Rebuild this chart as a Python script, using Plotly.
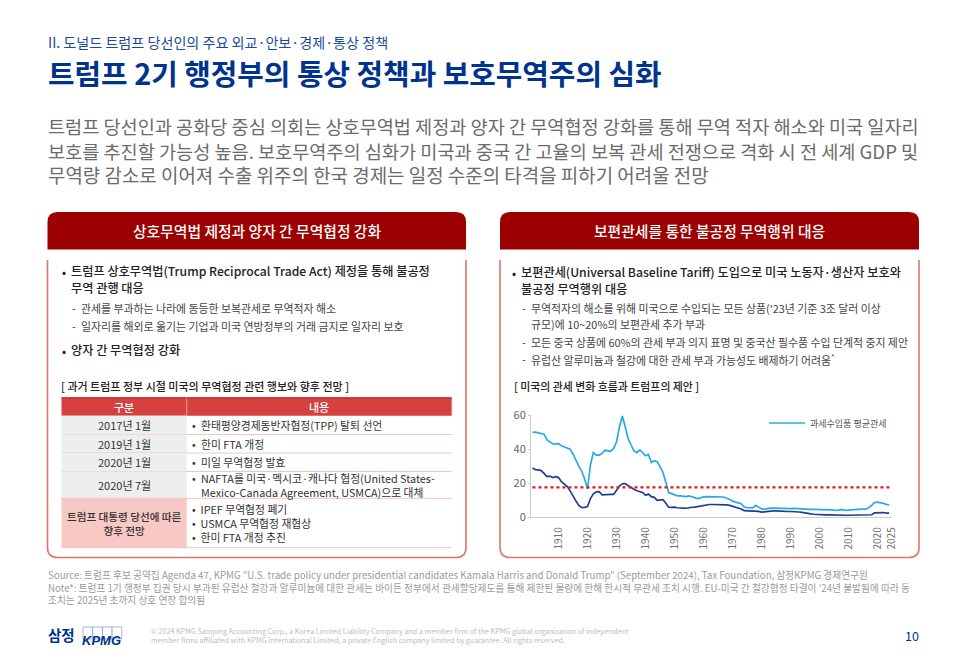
import plotly.graph_objects as go

W, H = 966, 669
FONT = "Noto Sans CJK KR"
NAVY = "#00338D"

# chart data, average tariff (%)
years = list(range(1901, 2025))
dutiable_avg = [
    49.8, 50.0, 49.5, 49.0, 48.7, 45.5, 44.2, 43.0, 43.1, 43.2,
    41.9, 41.3, 40.5, 40.0, 37.0, 33.0, 30.0, 27.0, 22.5, 16.6,
    30.7, 38.0, 36.5, 36.5, 37.5, 39.3, 38.9, 38.7, 40.4, 44.3,
    53.0, 59.4, 53.0, 46.3, 42.4, 38.9, 37.9, 39.5, 38.0, 36.1,
    36.9, 32.2, 33.2, 32.6, 29.7, 26.4, 20.5, 14.5, 13.9, 13.0,
    12.6, 12.6, 12.2, 12.1, 12.5, 11.9, 11.2, 11.0, 11.4, 12.0,
    12.1, 12.1, 11.9, 11.8, 11.8, 11.9, 11.9, 11.2, 10.6, 9.5,
    8.8, 8.5, 8.0, 6.0, 5.7, 5.4, 5.5, 7.0, 5.8, 4.9,
    4.8, 5.3, 5.4, 5.4, 5.3, 5.2, 5.1, 5.0, 5.0, 5.1,
    5.2, 5.1, 5.0, 4.7, 4.4, 4.5, 4.6, 4.7, 4.7, 4.7,
    4.7, 4.6, 4.5, 4.4, 4.2, 4.0, 4.4, 4.5, 4.1, 4.1,
    4.3, 4.5, 4.7, 4.9, 4.8, 4.8, 5.6, 7.0, 8.6, 8.9,
    8.7, 8.2, 7.6, 7.2,
]
all_imports_avg = [
    28.9, 28.0, 27.8, 27.4, 25.8, 23.9, 24.2, 23.3, 23.8, 23.3,
    20.9, 19.5, 18.0, 15.5, 12.0, 9.5, 7.0, 5.7, 5.8, 6.3,
    11.0, 13.8, 14.9, 15.0, 13.2, 13.3, 13.8, 13.5, 13.4, 16.0,
    18.3, 19.7, 19.8, 18.5, 17.2, 16.4, 15.6, 15.2, 14.6, 12.9,
    13.6, 12.1, 11.7, 10.0, 10.0, 10.4, 8.2, 5.9, 5.8, 6.0,
    5.6, 5.3, 5.4, 5.3, 5.8, 5.9, 6.0, 6.3, 7.0, 7.2,
    7.3, 7.5, 7.5, 7.5, 7.5, 7.6, 7.5, 7.3, 7.0, 6.4,
    6.0, 5.6, 4.9, 3.9, 3.8, 3.8, 3.8, 3.9, 3.5, 3.0,
    3.3, 3.5, 3.7, 3.8, 3.8, 3.6, 3.5, 3.4, 3.4, 3.4,
    3.4, 3.3, 3.1, 2.9, 2.5, 2.2, 2.0, 1.8, 1.6, 1.5,
    1.5, 1.4, 1.4, 1.3, 1.3, 1.2, 1.2, 1.1, 1.2, 1.2,
    1.2, 1.2, 1.2, 1.3, 1.3, 1.3, 1.3, 1.5, 2.6, 2.8,
    2.9, 2.8, 2.5, 2.4,
]
proposal_years = [1901, 2025]
proposal_rate = [17.6, 17.6]
x_ticks = [1910, 1920, 1930, 1940, 1950, 1960, 1970, 1980, 1990, 2000, 2010, 2020, 2025]
y_ticks = [0, 20, 40, 60]
legend_name = "과세수입품 평균관세"

# slide text
section = "II. 도널드 트럼프 당선인의 주요 외교·안보·경제·통상 정책"
title = "트럼프 2기 행정부의 통상 정책과 보호무역주의 심화"
intro = [
    "트럼프 당선인과 공화당 중심 의회는 상호무역법 제정과 양자 간 무역협정 강화를 통해 무역 적자 해소와 미국 일자리",
    "보호를 추진할 가능성 높음. 보호무역주의 심화가 미국과 중국 간 고율의 보복 관세 전쟁으로 격화 시 전 세계 GDP 및",
    "무역량 감소로 이어져 수출 위주의 한국 경제는 일정 수준의 타격을 피하기 어려울 전망",
]
left_head = "상호무역법 제정과 양자 간 무역협정 강화"
right_head = "보편관세를 통한 불공정 무역행위 대응"

table_title = "[ 과거 트럼프 정부 시절 미국의 무역협정 관련 행보와 향후 전망 ]"
chart_title = "[ 미국의 관세 변화 흐름과 트럼프의 제안 ]"
table_cols = ["구분", "내용"]
table_periods = ["2017년 1월", "2019년 1월", "2020년 1월", "2020년 7월", "트럼프 대통령 당선에 따른<br>향후 전망"]
table_items = [
    ["환태평양경제동반자협정(TPP) 탈퇴 선언"],
    ["한미 FTA 개정"],
    ["미일 무역협정 발효"],
    ["NAFTA를 미국·멕시코·캐나다 협정(United States-<br>Mexico-Canada Agreement, USMCA)으로 대체"],
    ["IPEF 무역협정 폐기", "USMCA 무역협정 재협상", "한미 FTA 개정 추진"],
]
row_edges = [415.7, 434.5, 453, 471.5, 498.3, 547.7]

source_lines = [
    "Source: 트럼프 후보 공약집 Agenda 47, KPMG \"U.S. trade policy under presidential candidates Kamala Harris and Donald Trump\" (September 2024), Tax Foundation, 삼정KPMG 경제연구원",
    "Note*: 트럼프 1기 행정부 집권 당시 부과된 유럽산 철강과 알루미늄에 대한 관세는 바이든 정부에서 관세할당제도를 통해 제한된 물량에 한해 한시적 무관세 조치 시행. EU-미국 간 철강협정 타결이 '24년 불발됨에 따라 동",
    "조치는 2025년 초까지 상호 연장 합의됨",
]
copyright_lines = [
    "© 2024 KPMG Samjong Accounting Corp., a Korea Limited Liability Company and a member firm of the KPMG global organization of independent",
    "member firms affiliated with KPMG International Limited, a private English company limited by guarantee. All rights reserved.",
]


def px(x):
    return x / W


def py(y):
    return 1 - y / H


annotations = []
shapes = []


def text(x, y, s, size, color="#333333", weight=400, anchor="left", align="left", family=FONT):
    # annotations carry about 1.5px of padding inside their box
    if anchor == "left":
        x -= 1.5
    elif anchor == "right":
        x += 2.5
    annotations.append(dict(
        x=px(x), y=py(y), xref="paper", yref="paper", text=s, showarrow=False,
        xanchor=anchor, yanchor="middle", align=align,
        font=dict(family=family, size=size, color=color, weight=weight),
    ))


def rect(x0, y0, x1, y1, fill, line=None, width=0):
    shapes.append(dict(
        type="rect", xref="paper", yref="paper", x0=px(x0), x1=px(x1), y0=py(y0), y1=py(y1),
        fillcolor=fill, line=dict(color=line or fill, width=width), layer="below",
    ))


def hline(x0, x1, y, color, width=1):
    shapes.append(dict(
        type="line", xref="paper", yref="paper", x0=px(x0), x1=px(x1), y0=py(y), y1=py(y),
        line=dict(color=color, width=width), layer="below",
    ))


def panel(x0, x1, heading, cx):
    # red header with rounded top
    r = 10
    top, bot = 212, 249.5
    shapes.append(dict(
        type="path", xref="paper", yref="paper", fillcolor="#9C0000", line=dict(width=0), layer="below",
        path=f"M {px(x0)},{py(bot)} L {px(x0)},{py(top + r)} Q {px(x0)},{py(top)} {px(x0 + r)},{py(top)} "
             f"L {px(x1 - r)},{py(top)} Q {px(x1)},{py(top)} {px(x1)},{py(top + r)} L {px(x1)},{py(bot)} Z",
    ))
    # open border below it
    b0, b1 = 260, 557.5
    shapes.append(dict(
        type="path", xref="paper", yref="paper", line=dict(color="#E2756B", width=1.6), layer="below",
        path=f"M {px(x0)},{py(b0)} L {px(x0)},{py(b1 - r)} Q {px(x0)},{py(b1)} {px(x0 + r)},{py(b1)} "
             f"L {px(x1 - r)},{py(b1)} Q {px(x1)},{py(b1)} {px(x1)},{py(b1 - r)} L {px(x1)},{py(b0)}",
    ))
    text(cx, 230.5, heading, 14.8, "#FFFFFF", 500, "center")


def main_item(x, y, s):
    text(x, y, "•", 12, "#222222", 400)
    text(x + 9, y, s, 12.2, "#222222", 500)


def sub_item(x, y, s):
    text(x, y, "-", 11, "#444444")
    text(x + 9, y, s, 10.9, "#444444")


text(47, 42, section, 14.1, "#1B4A9C")
text(47, 73, title, 28.85, NAVY, 700)
for y, line, size in zip([125, 150, 175], intro, [18.6, 18.6, 18.95]):
    text(47, y, line, size, "#6B6B6B")

panel(47.5, 466, left_head, 257)
panel(500, 919, right_head, 709)

main_item(61, 271, "트럼프 상호무역법(Trump Reciprocal Trade Act) 제정을 통해 불공정")
text(70, 288, "무역 관행 대응", 12.2, "#222222", 500)
sub_item(71.5, 308, "관세를 부과하는 나라에 동등한 보복관세로 무역적자 해소")
sub_item(71.5, 326, "일자리를 해외로 옮기는 기업과 미국 연방정부의 거래 금지로 일자리 보호")
main_item(61, 350, "양자 간 무역협정 강화")
text(60, 386, table_title, 11, "#222222", 500)

main_item(511, 272, "보편관세(Universal Baseline Tariff) 도입으로 미국 노동자·생산자 보호와")
text(520, 289, "불공정 무역행위 대응", 12.2, "#222222", 500)
sub_item(521, 308, "무역적자의 해소를 위해 미국으로 수입되는 모든 상품('23년 기준 3조 달러 이상")
text(530, 324, "규모)에 10~20%의 보편관세 추가 부과", 10.9, "#444444")
sub_item(521, 342, "모든 중국 상품에 60%의 관세 부과 의지 표명 및 중국산 필수품 수입 단계적 중지 제안")
sub_item(521, 359, "유럽산 알루미늄과 철강에 대한 관세 부과 가능성도 배제하기 어려움<sup>*</sup>")
text(513, 386, chart_title, 10.9, "#222222", 500)

# table
tx0, tsplit, tx1 = 61.5, 186.7, 451.7
rect(tx0, 397.7, tx1, 415.7, "#D6403F")
hline(tx0, tx1, 397.9, "#B81F1F", 1.2)
shapes.append(dict(type="line", xref="paper", yref="paper", x0=px(tsplit), x1=px(tsplit),
                   y0=py(397.7), y1=py(415.7), line=dict(color="#F0B0AC", width=0.8), layer="below"))
text((tx0 + tsplit) / 2, 406.7, table_cols[0], 11, "#FFFFFF", 500, "center")
text((tsplit + tx1) / 2, 406.7, table_cols[1], 11, "#FFFFFF", 500, "center")
for i, (period, items) in enumerate(zip(table_periods, table_items)):
    y0, y1 = row_edges[i], row_edges[i + 1]
    yc = (y0 + y1) / 2
    last = i == len(table_periods) - 1
    rect(tx0, y0, tsplit, y1, "#F8C8C4" if last else "#EEEEEE")
    hline(tx0, tx1, y1, "#F4C4C0", 1)
    text((tx0 + tsplit) / 2, yc, period, 10.6 if last else 11, "#333333", 500 if last else 400, "center", "center")
    if len(items) > 1:
        text(191, yc, "<br>".join("•  " + item for item in items), 10.8, "#333333")
    else:
        text(191, yc if "<br>" not in items[0] else yc - 6.7, "•", 10.8, "#333333")
        text(200, yc, items[0], 10.8, "#333333")

# footer
text(47, 587, "<br>".join(source_lines), 9.7, "#9A9A9A")
text(47, 634, "삼정", 14.5, NAVY, 700)
for bx in [83, 92.7, 102.4, 112.1]:
    rect(bx, 627, bx + 9.7, 639, "#FFFFFF", "#7D97C6", 0.7)
text(81, 640, "<i>KPMG</i>", 13, NAVY, 700, family="Liberation Sans")
text(150, 635.5, "<br>".join(copyright_lines), 7.15, "#BDBDBD")
text(918, 635, "10", 12.5, NAVY, 400, "right")

fig = go.Figure()
fig.add_trace(go.Scatter(x=years, y=dutiable_avg, mode="lines", name=legend_name,
                         line=dict(color="#29ABE2", width=1.7)))
fig.add_trace(go.Scatter(x=years, y=all_imports_avg, mode="lines", showlegend=False,
                         line=dict(color="#1C3F94", width=1.7)))
fig.add_trace(go.Scatter(x=proposal_years, y=proposal_rate, mode="lines", showlegend=False,
                         line=dict(color="#E8141C", width=2.3, dash="dot")))

fig.update_layout(
    width=W, height=H, margin=dict(l=0, r=0, t=0, b=0, autoexpand=False),
    paper_bgcolor="white", plot_bgcolor="white",
    font=dict(family=FONT, color="#666666"),
    shapes=shapes, annotations=annotations,
    legend=dict(x=px(764), y=py(423), xanchor="left", yanchor="middle", bgcolor="rgba(0,0,0,0)",
                font=dict(size=9, color="#555555"), itemwidth=36),
    xaxis=dict(domain=[px(531), px(892)], range=[1900.5, 2025], tickmode="array", tickvals=x_ticks,
               tickangle=-90, tickfont=dict(size=10, color="#707070"), showgrid=False, zeroline=False,
               showline=True, linecolor="#CCCCCC", linewidth=1, ticks="", ticklabelstandoff=5),
    yaxis=dict(domain=[py(517.3), py(415)], range=[0, 60], tickmode="array", tickvals=y_ticks,
               tickfont=dict(size=11, color="#666666"), showgrid=False, zeroline=False,
               showline=True, linecolor="#CCCCCC", linewidth=1, ticks="outside", ticklen=2, tickcolor="#CCCCCC"),
)

fig.write_html("out.html", config={"displayModeBar": False}, post_script="document.body.style.margin='0';")
